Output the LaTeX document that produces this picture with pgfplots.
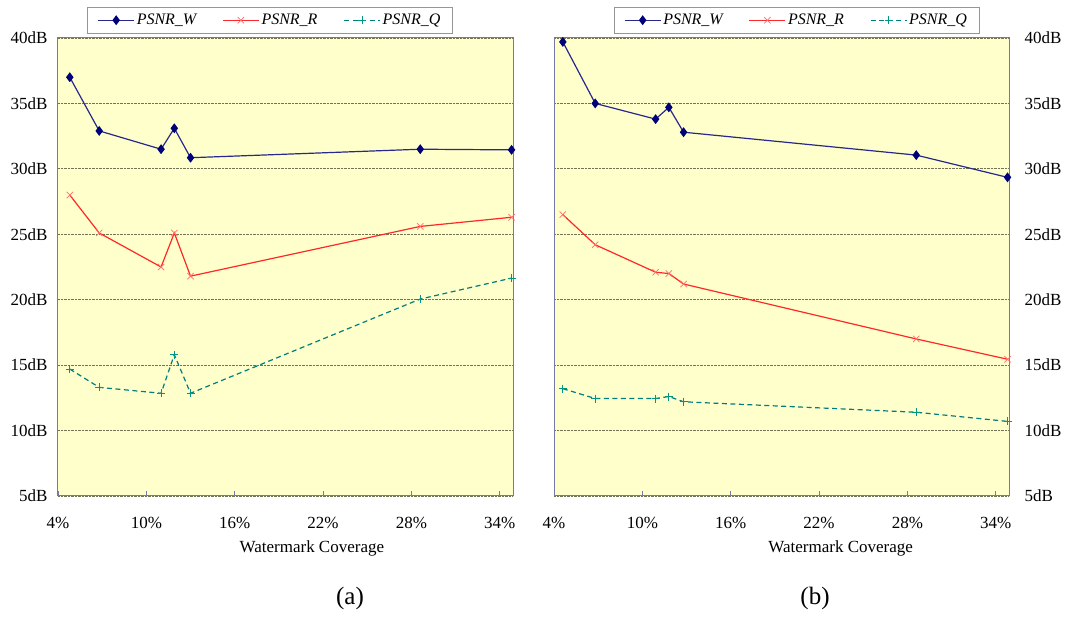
\documentclass[border=0pt]{standalone}
\usepackage{pgfplots}
\pgfplotsset{compat=1.18}
\usepackage{fontspec}
\setmainfont{Liberation Serif}

\definecolor{plotbg}{RGB}{255,255,204}
\definecolor{frame}{RGB}{120,120,165}
\definecolor{gridc}{RGB}{115,115,85}
\definecolor{wline}{RGB}{40,40,140}
\definecolor{wmark}{RGB}{0,0,120}
\definecolor{rline}{RGB}{255,40,40}
\definecolor{rmark}{RGB}{255,110,110}
\definecolor{qline}{RGB}{0,125,125}
\definecolor{qmark}{RGB}{0,150,130}

\pgfplotsset{
  psnr/.style={
    scale only axis, width=455pt, height=458pt, anchor=south west,
    xmin=4, xmax=34.9, ymin=5, ymax=40,
    axis background/.style={fill=plotbg},
    axis line style={frame, line width=1pt},
    xtick={4,10,16,22,28,34},
    xticklabels={4\%,10\%,16\%,22\%,28\%,34\%},
    ytick={5,10,15,20,25,30,35,40},
    yticklabels={5dB,10dB,15dB,20dB,25dB,30dB,35dB,40dB},
    xtick pos=left, tick align=inside, major tick length=5pt,
    xtick style={frame, line width=0.8pt},
    ytick style={draw=none},
    ymajorgrids, major grid style={gridc, densely dotted, line width=0.9pt},
    tick label style={font=\fontsize{17}{20}\selectfont},
    xticklabel style={anchor=base, yshift=-33pt},
    xlabel={Watermark Coverage},
    label style={font=\fontsize{17}{20}\selectfont},
    legend columns=3,
    legend style={draw={rgb,255:red,150;green,150;blue,150}, fill=white,
      font=\fontsize{16}{19}\selectfont\itshape, inner xsep=10pt, inner ysep=4.5pt,
      /tikz/every even column/.append style={column sep=24pt}},
    legend image code/.code={\draw[mark repeat=2,mark phase=2,##1]
      plot coordinates {(0pt,0pt) (18pt,0pt) (36pt,0pt)};},
  },
  wst/.style={wline, line width=1.2pt, mark=diamond*, mark size=4pt,
    mark options={solid, fill=wmark, draw=wmark}},
  rst/.style={rline, line width=1.2pt, mark=x, mark size=4.5pt,
    mark options={solid, draw=rmark, line width=0.7pt}},
  qst/.style={qline, line width=1.2pt, dash pattern=on 5pt off 3.5pt, mark=+, mark size=4pt,
    mark options={solid, draw=qmark, line width=0.8pt}},
}

\begin{document}
\begin{tikzpicture}
\useasboundingbox (0,0) rectangle (1076pt,620pt);

% (a)
\begin{axis}[psnr, at={(58pt,124pt)},
  xlabel style={at={(axis description cs:0.558,-0.1135)}, anchor=center},
  yticklabel style={anchor=east, xshift=-7pt},
  legend style={at={(0.466,1.011)}, anchor=south}]
\addplot[wst] coordinates {(4.8,37.0) (6.8,32.9) (11.0,31.5) (11.9,33.1) (13.0,30.85) (28.6,31.5) (34.8,31.45)};
\addplot[rst] coordinates {(4.8,28.0) (6.8,25.1) (11.0,22.5) (11.9,25.1) (13.0,21.8) (28.6,25.6) (34.8,26.3)};
\addplot[qst] coordinates {(4.8,14.7) (6.8,13.3) (11.0,12.85) (11.9,15.8) (13.0,12.85) (28.6,20.05) (34.8,21.65)};
\legend{PSNR\_W, PSNR\_R, PSNR\_Q}
\end{axis}

% (b)
\begin{axis}[psnr, at={(554pt,124pt)},
  xlabel style={at={(axis description cs:0.63,-0.1135)}, anchor=center},
  yticklabel pos=right,
  yticklabel style={anchor=west, xshift=12pt},
  legend style={at={(0.533,1.011)}, anchor=south}]
\addplot[wst] coordinates {(4.6,39.7) (6.8,35.0) (10.9,33.8) (11.8,34.7) (12.8,32.8) (28.6,31.05) (34.8,29.35)};
\addplot[rst] coordinates {(4.6,26.5) (6.8,24.2) (10.9,22.1) (11.8,22.0) (12.8,21.2) (28.6,17.0) (34.8,15.45)};
\addplot[qst] coordinates {(4.6,13.2) (6.8,12.45) (10.9,12.45) (11.8,12.6) (12.8,12.2) (28.6,11.4) (34.8,10.7)};
\legend{PSNR\_W, PSNR\_R, PSNR\_Q}
\end{axis}

\node at (350pt,22pt) {\fontsize{25}{30}\selectfont (a)};
\node at (815pt,22pt) {\fontsize{25}{30}\selectfont (b)};
\end{tikzpicture}
\end{document}
